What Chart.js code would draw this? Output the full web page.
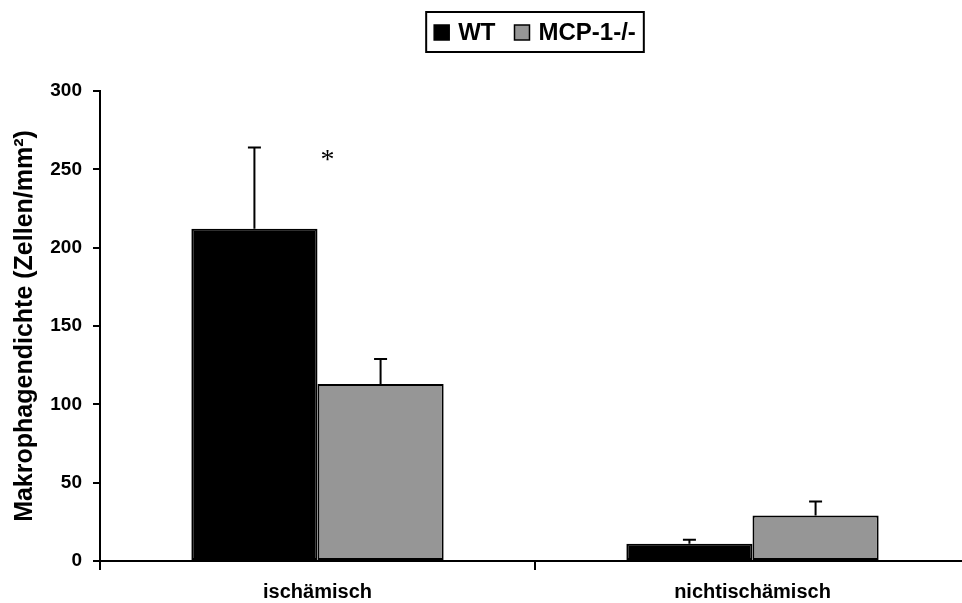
<!DOCTYPE html>
<html>
<head>
<meta charset="utf-8">
<script src="https://cdn.jsdelivr.net/npm/chart.js@4/dist/chart.umd.min.js"></script>
<style>
  html, body { margin: 0; padding: 0; background: #fff; overflow: hidden; }
  #wrap { width: 970px; height: 603px; }
</style>
</head>
<body>
<div id="wrap"><canvas id="chart" width="970" height="603"></canvas></div>
<script>
// Daten
const categories = ['ischämisch', 'nichtischämisch'];
const seriesNames = ['WT', 'MCP-1-/-'];
const wtValues = [212, 11];
const wtErrors = [52, 2.5];
const mcpValues = [113, 29];
const mcpErrors = [16, 9];
const yTicks = [0, 50, 100, 150, 200, 250, 300];
const starValue = 259; // Signifikanz-Marke über ischämisch

const FONT = '"Liberation Sans", Arial, Helvetica, sans-serif';
const colors = ['#000000', '#969696'];

// Fehlerbalken nach oben (Mittelwert + SD)
const errorBars = {
  id: 'errorBars',
  afterDatasetsDraw(chart) {
    const ctx = chart.ctx;
    const y = chart.scales.y;
    ctx.save();
    ctx.strokeStyle = '#000';
    ctx.lineWidth = 2;
    chart.data.datasets.forEach((ds, di) => {
      const meta = chart.getDatasetMeta(di);
      meta.data.forEach((bar, i) => {
        const top = y.getPixelForValue(ds.data[i] + ds.errors[i]);
        ctx.beginPath();
        ctx.moveTo(bar.x, bar.y);
        ctx.lineTo(bar.x, top);
        ctx.moveTo(bar.x - 6.5, top);
        ctx.lineTo(bar.x + 6.5, top);
        ctx.stroke();
      });
    });
    // Stern
    ctx.fillStyle = '#000';
    ctx.font = '28px "Liberation Serif", "DejaVu Serif", serif';
    ctx.textAlign = 'center';
    ctx.textBaseline = 'alphabetic';
    ctx.fillText('*', chart.scales.x.getPixelForValue(0) + 10, y.getPixelForValue(starValue) + 13);
    ctx.restore();
  }
};

// Legende mit Rahmen oben
const boxedLegend = {
  id: 'boxedLegend',
  afterDraw(chart) {
    const ctx = chart.ctx;
    ctx.save();
    ctx.font = 'bold 24px ' + FONT;
    const sq = 15, gapIn = 9, gapItem = 19, pad = 8;
    const widths = seriesNames.map(n => ctx.measureText(n).width);
    let total = pad * 2;
    widths.forEach((w, i) => { total += sq + gapIn + w + (i < widths.length - 1 ? gapItem : 0); });
    const cx = 535, top = 12, h = 40;
    const left = cx - total / 2;
    ctx.strokeStyle = '#000';
    ctx.lineWidth = 2;
    ctx.strokeRect(left, top, total, h);
    let x = left + pad;
    const mid = top + h / 2 + 0.5;
    seriesNames.forEach((n, i) => {
      ctx.fillStyle = colors[i];
      ctx.fillRect(x, mid - sq / 2, sq, sq);
      ctx.lineWidth = 1.5;
      ctx.strokeRect(x, mid - sq / 2, sq, sq);
      x += sq + gapIn;
      ctx.fillStyle = '#000';
      ctx.textBaseline = 'middle';
      ctx.textAlign = 'left';
      ctx.fillText(n, x, mid + 1);
      x += widths[i] + gapItem;
    });
    ctx.restore();
  }
};

new Chart(document.getElementById('chart'), {
  type: 'bar',
  data: {
    labels: categories,
    datasets: [
      { label: seriesNames[0], data: wtValues, errors: wtErrors,
        backgroundColor: colors[0], borderColor: '#000', borderWidth: 2, borderSkipped: false },
      { label: seriesNames[1], data: mcpValues, errors: mcpErrors,
        backgroundColor: colors[1], borderColor: '#000', borderWidth: 2, borderSkipped: false }
    ]
  },
  options: {
    responsive: false,
    animation: false,
    events: [],
    layout: { padding: { top: 91, left: 0, right: 0, bottom: 0 } },
    datasets: { bar: { categoryPercentage: 0.58, barPercentage: 1.0 } },
    plugins: { legend: { display: false }, tooltip: { enabled: false } },
    scales: {
      x: {
        afterFit(s) { s.height = 42; },
        border: { color: '#000', width: 2 },
        grid: { display: true, drawOnChartArea: false, color: '#000', lineWidth: 2, tickLength: 9 },
        ticks: { color: '#000', padding: 10, font: { family: FONT, size: 20, weight: 'bold' } }
      },
      y: {
        min: 0, max: 300,
        afterFit(s) { s.width = 100; },
        afterBuildTicks(s) { s.ticks = yTicks.map(v => ({ value: v })); },
        border: { color: '#000', width: 2 },
        grid: { display: true, drawOnChartArea: false, color: '#000', lineWidth: 2, tickLength: 7 },
        ticks: { color: '#000', padding: 11, font: { family: FONT, size: 19, weight: 'bold' } },
        title: {
          display: true,
          text: 'Makrophagendichte (Zellen/mm²)',
          color: '#000',
          padding: { top: 10, bottom: 0 },
          font: { family: FONT, size: 25, weight: 'bold' }
        }
      }
    }
  },
  plugins: [errorBars, boxedLegend]
});
</script>
</body>
</html>
